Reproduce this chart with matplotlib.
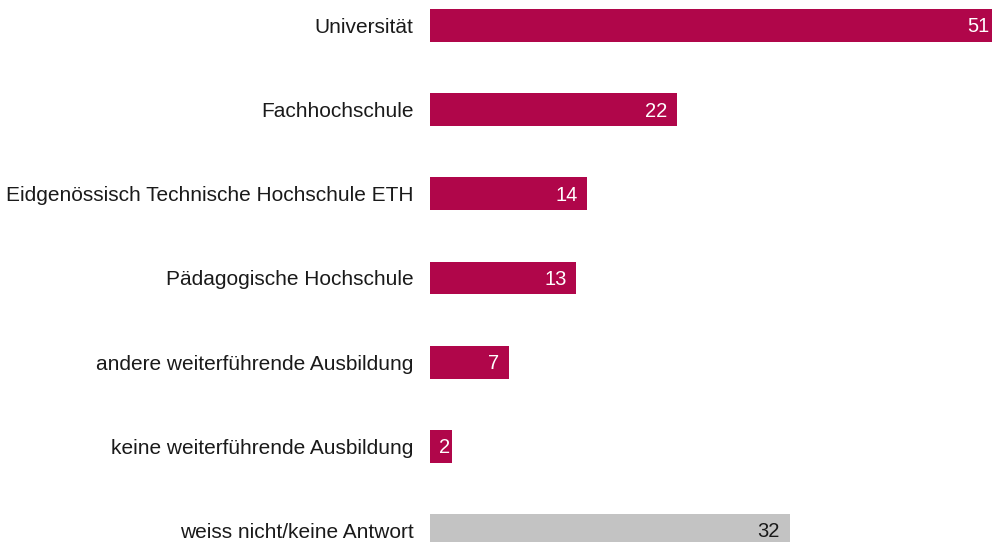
import matplotlib.pyplot as plt

categorias = ["Universität", "Fachhochschule", "Eidgenössisch Technische Hochschule ETH",
              "Pädagogische Hochschule", "andere weiterführende Ausbildung",
              "keine weiterführende Ausbildung", "weiss nicht/keine Antwort"]
valores = [51, 22, 14, 13, 7, 2, 32]
colores = ["#B0064A"] * 6 + ["#C3C3C3"]
col_texto = ["white"] * 6 + ["#1a1a1a"]

plt.rcParams['font.family'] = ['Liberation Sans', 'DejaVu Sans']

fig = plt.figure(figsize=(9.92, 5.42), dpi=100)
ax = fig.add_axes([430 / 992, 0, 1 - 430 / 992, 1])

xmax = 50
y = list(range(len(categorias)))
ax.barh(y, valores, height=0.39, color=colores)

# el de 51 queda cortado en el borde, el de 2 es muy corto -> menos margen
for yi, v, c in zip(y, valores, col_texto):
    if v >= xmax or v < 5:
        off = -1.5
    else:
        off = -7
    ax.annotate(str(v), xy=(min(v, xmax), yi), xytext=(off, -1), textcoords="offset points",
                ha="right", va="center", color=c, fontsize=14.5)

ax.set_xlim(0, xmax)
ax.set_ylim(6.137, -0.303)
ax.set_yticks(y)
ax.set_yticklabels(categorias, fontsize=15, color="#1a1a1a")
ax.tick_params(axis="y", length=0, pad=12)
ax.set_xticks([])
for s in ax.spines.values():
    s.set_visible(False)

fig.savefig("out.png", dpi=100)
